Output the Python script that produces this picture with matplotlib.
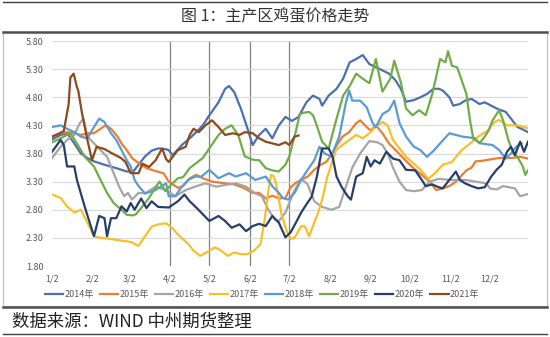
import matplotlib.pyplot as plt
from matplotlib.lines import Line2D
from matplotlib.patches import Rectangle

plt.rcParams['font.family'] = ['Noto Sans CJK SC', 'DejaVu Sans']

# x = days since Jan 2, y = price (yuan/jin)
d2014 = [0, 6.6, 11.5, 17, 22, 27, 32, 40, 49, 57, 62, 66, 71, 76, 81, 86, 89, 92, 99, 105, 110, 115, 120,
         127, 132, 135, 139, 144, 149, 153, 158, 163, 168, 173, 178, 183, 188, 194, 199, 204, 206, 211, 217,
         222, 227, 232, 237, 242, 250, 257, 262, 266, 270, 276, 281, 286, 291, 295, 298, 303, 306, 311, 315,
         320, 326, 330, 335, 340, 346, 350, 355, 358, 363]
v2014 = [4.05, 4.13, 4.16, 3.98, 3.8, 3.72, 3.66, 3.6, 3.54, 3.48, 3.48, 3.6, 3.75, 3.85, 3.89, 3.88, 3.86,
         3.77, 3.95, 4.07, 4.18, 4.3, 4.48, 4.71, 4.95, 5.0, 4.89, 4.6, 4.25, 3.95, 4.13, 4.24, 4.07, 4.3,
         4.45, 4.38, 4.45, 4.71, 4.83, 4.77, 4.65, 4.83, 4.95, 5.13, 5.42, 5.48, 5.55, 5.39, 5.3, 5.22, 5.1,
         4.95, 4.72, 4.75, 4.8, 4.86, 4.95, 4.95, 4.92, 4.8, 4.65, 4.68, 4.74, 4.77, 4.68, 4.71, 4.65, 4.59,
         4.54, 4.42, 4.27, 4.24, 4.18]

d2015 = [0, 6.6, 11.5, 17, 22, 27, 32, 37, 41, 45, 50, 53, 57, 61, 66, 72, 80, 85, 89, 96, 100, 105, 110,
         115, 122, 132, 139, 146, 153, 158, 163, 168, 173, 178, 182, 186, 190, 195, 200, 205, 209, 212, 216.5,
         221.5, 226.6, 232, 235, 240, 243, 247, 252, 257, 262, 267, 272, 277, 282, 288, 293, 298, 303, 308,
         312, 316, 320, 323, 328, 333, 341, 350, 357, 363]
v2015 = [4.1, 4.16, 4.18, 4.16, 4.13, 4.16, 4.16, 4.24, 4.3, 4.24, 4.1, 3.98, 3.86, 3.72, 3.63, 3.54, 3.48,
         3.45, 3.3, 3.19, 3.22, 3.36, 3.42, 3.36, 3.3, 3.27, 3.25, 3.19, 3.1, 3.1, 3.0, 3.05, 3.0, 3.01, 3.2,
         3.28, 3.33, 3.39, 3.51, 3.6, 3.65, 3.74, 3.92, 4.1, 4.18, 4.34, 4.39, 4.27, 4.21, 4.3, 4.16, 3.98,
         3.86, 3.74, 3.62, 3.51, 3.42, 3.3, 3.15, 3.18, 3.22, 3.3, 3.4, 3.5, 3.55, 3.66, 3.67, 3.69, 3.72,
         3.72, 3.74, 3.71]

d2016 = [0, 6.6, 11.5, 17, 21, 24, 27, 32, 37, 42, 46, 51, 55, 58, 61, 66, 71, 79, 87, 94, 102, 109, 117,
         125, 132, 140, 148, 155, 160, 165, 170, 173, 178, 184, 190, 195, 200, 206, 213, 219, 224, 229, 235,
         242, 248, 252, 256, 260, 265, 270, 276, 282, 288, 295, 303, 315, 323, 331, 334, 339, 344, 353, 357,
         363]
v2016 = [3.72, 3.92, 4.04, 4.13, 4.33, 4.42, 4.1, 3.98, 3.86, 3.74, 3.51, 3.22, 3.04, 3.1, 2.98, 3.1, 3.09,
         3.21, 3.15, 3.04, 3.15, 3.21, 3.27, 3.21, 3.24, 3.27, 3.21, 3.09, 3.04, 2.8, 2.62, 2.6, 2.75, 3.1,
         3.35, 3.25, 2.95, 2.85, 2.8, 2.85, 3.2, 3.55, 3.8, 4.02, 4.0, 3.95, 3.8, 3.55, 3.3, 3.15, 3.13, 3.15,
         3.3, 3.35, 3.33, 3.33, 3.3, 3.27, 3.18, 3.16, 3.22, 3.18, 3.04, 3.08]

d2017 = [0, 6.6, 11.5, 17, 22, 27, 32, 37, 45, 53, 57, 61, 64, 66, 71, 76, 81, 87, 92, 96, 104, 108, 113,
         120, 124, 128, 134, 139, 144, 149, 154, 159, 162, 165, 167, 169, 171, 175, 179, 182, 185, 190, 193,
         196, 199, 203, 206, 210, 213, 216.5, 221.5, 226.6, 232, 237, 242, 246.6, 252, 256, 260, 265, 270,
         276, 281, 287, 292, 298, 305, 312, 320, 325, 332, 337, 341, 347, 355, 363]
v2017 = [3.07, 3.01, 2.86, 2.75, 2.8, 2.57, 2.33, 2.3, 2.28, 2.25, 2.24, 2.22, 2.18, 2.16, 2.33, 2.5, 2.54,
         2.56, 2.47, 2.36, 2.19, 2.07, 1.98, 2.07, 2.13, 2.09, 1.98, 2.04, 2.01, 2.01, 2.07, 2.19, 2.6, 3.13,
         3.42, 3.4, 3.25, 2.72, 2.42, 2.28, 2.3, 2.51, 2.5, 2.33, 2.51, 2.75, 2.98, 3.39, 3.6, 3.86, 3.95,
         4.04, 4.13, 4.07, 4.16, 4.27, 4.36, 4.3, 4.04, 3.89, 3.74, 3.62, 3.51, 3.35, 3.45, 3.6, 3.65, 3.85,
         4.0, 4.1, 4.2, 4.35, 4.4, 4.3, 4.3, 4.25]

d2018 = [0, 6.6, 11.5, 17, 22, 27, 32, 36, 40, 45, 49, 53, 57, 60, 63, 66, 71, 79, 87, 89, 94, 99, 104,
         109, 114, 120, 127, 135, 140, 148, 155, 163, 168, 173, 176, 180, 185, 190, 195, 200, 204, 208, 213,
         219, 224, 226.6, 229, 235, 240, 244.5, 247, 252, 257, 261, 265, 270, 276, 281, 286, 291, 296, 303,
         308, 313, 320, 327, 336, 341, 346, 350, 354, 358]
v2018 = [4.27, 4.3, 4.24, 4.18, 4.1, 4.07, 4.27, 4.42, 4.36, 4.16, 4.04, 3.86, 3.68, 3.57, 3.33, 3.22, 3.09,
         3.15, 3.27, 3.04, 3.04, 3.21, 3.33, 3.39, 3.39, 3.51, 3.36, 3.45, 3.39, 3.45, 3.33, 3.39, 3.22, 3.1,
         3.01, 2.98, 3.1, 3.33, 3.51, 3.68, 3.92, 3.8, 3.75, 4.1, 4.69, 4.92, 4.74, 4.74, 4.62, 4.34, 4.27,
         4.5, 4.57, 4.74, 4.34, 4.1, 3.92, 3.86, 3.74, 3.85, 3.98, 4.16, 4.13, 4.1, 4.08, 3.98, 3.95, 3.86,
         3.71, 3.8, 3.92, 3.98]

d2019 = [0, 4, 9, 14, 19, 25, 32, 37, 42, 47, 53, 57, 62, 64, 68, 74, 79, 82, 86.5, 91, 96, 100, 105, 110,
         115, 120, 127, 132, 137, 142, 147, 153, 158, 163, 168, 173, 178, 181, 186, 189, 191, 196, 199, 201,
         206, 211, 217, 222, 227, 232, 237, 242, 247, 252, 258, 261, 266, 270, 275, 280, 285, 290, 296, 300,
         302, 305, 309, 312, 316, 318.7, 321, 326, 330, 333, 336, 341, 344, 348, 352, 355, 359, 361, 363]
v2019 = [4.0, 4.04, 4.1, 4.16, 3.98, 3.74, 3.57, 3.33, 3.1, 2.92, 2.8, 2.71, 2.7, 2.72, 2.83, 3.01, 3.2,
         3.3, 3.13, 3.25, 3.36, 3.38, 3.54, 3.63, 3.72, 3.89, 4.13, 4.24, 4.3, 4.13, 3.75, 3.69, 3.68, 3.54,
         3.5, 3.48, 3.6, 3.75, 4.2, 4.5, 4.52, 4.54, 4.48, 4.36, 4.01, 3.89, 4.42, 4.83, 5.0, 5.22, 5.13,
         5.05, 5.48, 4.9, 5.13, 5.45, 5.07, 4.6, 4.48, 4.57, 4.48, 4.86, 5.48, 5.42, 5.62, 5.36, 5.33, 5.13,
         4.86, 4.4, 4.1, 3.98, 4.1, 4.21, 4.39, 4.57, 4.39, 4.04, 3.8, 3.74, 3.57, 3.42, 3.5]

d2020 = [0, 6.6, 9, 11.5, 17, 19, 25, 32, 36, 40, 42, 45, 49, 53, 57, 60, 63, 68, 72, 76, 81, 89, 96, 101,
         105, 110, 115, 120, 127, 132, 137, 143, 148, 153, 158, 163, 168, 173, 178, 182, 186, 190, 195, 198,
         202, 206, 211, 214, 217, 221, 225.5, 228, 232, 237, 240, 243, 246, 250, 255, 260, 265, 270, 277,
         282, 285, 290, 295, 298, 303, 308, 311, 315, 320, 325, 330, 335, 339, 343, 347, 350, 353, 357, 360,
         363]
v2020 = [3.83, 4.04, 3.95, 3.57, 3.57, 3.33, 2.85, 2.33, 2.69, 2.65, 2.33, 2.65, 2.65, 2.86, 2.77, 2.92,
         2.8, 3.0, 2.83, 2.95, 2.85, 2.84, 2.95, 3.07, 2.95, 2.84, 2.72, 2.6, 2.69, 2.6, 2.48, 2.54, 2.42,
         2.51, 2.55, 2.51, 2.69, 2.57, 2.31, 2.4, 2.57, 2.75, 2.93, 3.03, 3.39, 3.89, 3.89, 3.74, 3.39, 3.2,
         3.04, 2.98, 3.39, 3.45, 3.74, 3.57, 3.68, 3.62, 3.83, 3.71, 3.68, 3.51, 3.5, 3.33, 3.22, 3.25, 3.2,
         3.18, 3.33, 3.48, 3.33, 3.27, 3.22, 3.18, 3.2, 3.39, 3.51, 3.6, 3.83, 3.92, 3.77, 4.01, 3.83, 4.01]

d2021 = [0, 5, 9, 12.7, 14, 16.5, 19, 20, 23, 27, 30.5, 34, 40, 46, 52.6, 56, 60, 66, 69, 74, 79, 84, 87,
         89, 94, 96, 102, 105, 108, 112, 117, 122, 127, 132, 138, 143, 147, 153, 158, 163, 168, 173, 178,
         181, 185, 188]
v2021 = [4.1, 4.15, 4.2, 4.68, 5.15, 5.22, 4.98, 4.92, 4.5, 4.04, 3.68, 3.92, 3.88, 3.8, 3.72, 3.65, 3.45,
         3.45, 3.62, 3.56, 3.68, 3.89, 3.7, 3.65, 3.8, 3.86, 3.92, 4.13, 4.24, 4.18, 4.3, 4.39, 4.27, 4.13,
         4.16, 4.13, 4.18, 4.16, 4.07, 4.01, 3.98, 3.95, 4.0, 3.95, 4.1, 4.12]

years = ['2014年', '2015年', '2016年', '2017年', '2018年', '2019年', '2020年', '2021年']
colors = ['#4A70B0', '#ED7D31', '#A5A5A5', '#F5C02A', '#5B9BD5', '#70AD47', '#263F6A', '#8E4A1C']
series = [(d2014, v2014), (d2015, v2015), (d2016, v2016), (d2017, v2017),
          (d2018, v2018), (d2019, v2019), (d2020, v2020), (d2021, v2021)]

month_days = [0, 31, 59, 90, 120, 151, 181, 212, 243, 273, 304, 334]
month_labels = ['1/2', '2/2', '3/2', '4/2', '5/2', '6/2', '7/2', '8/2', '9/2', '10/2', '11/2', '12/2']
y_ticks = [1.8, 2.3, 2.8, 3.3, 3.8, 4.3, 4.8, 5.3, 5.8]
marked_months = [90, 120, 151, 181]

fig = plt.figure(figsize=(5.5, 3.37), dpi=100)
W, H = 550, 337

# frame and rules
fig.patches.append(Rectangle((3 / W, 1 - 306 / H), 544 / W, 274 / H, transform=fig.transFigure,
                             fill=False, edgecolor='#BFBFBF', lw=0.8))
for y, lw, c in [(2, 1.0, '#404040'), (32, 1.8, '#505050'), (307, 1.8, '#505050'), (334, 1.0, '#404040')]:
    fig.add_artist(Line2D([0.005, 0.995], [1 - y / H, 1 - y / H], transform=fig.transFigure, color=c, lw=lw))

fig.text(0.5, 1 - 17 / H, '图 1：主产区鸡蛋价格走势', ha='center', va='center', fontsize=11.5, color='#333333')
fig.text(12 / W, 1 - 322 / H, '数据来源：WIND 中州期货整理', ha='left', va='center', fontsize=12.5, color='#222222')

ax = fig.add_axes([52 / W, 1 - 266 / H, 476 / W, 225 / H])
for (d, v), c, lab in zip(series, colors, years):
    ax.plot(d, v, color=c, lw=1.6, label=lab)
for m in marked_months:
    ax.axvline(m, color='#808080', lw=0.9, zorder=0.5)

ax.set_xlim(0, 363)
ax.set_ylim(1.8, 5.8)
ax.set_yticks(y_ticks)
ax.set_yticklabels(['%.2f' % t for t in y_ticks])
ax.set_xticks(month_days)
ax.set_xticklabels(month_labels)
ax.tick_params(length=0, labelsize=6.5, colors='#595959', pad=6)
ax.grid(axis='y', color='#D9D9D9', lw=0.8)
ax.set_axisbelow(True)
for s in ax.spines.values():
    s.set_visible(False)

fig.legend(loc='center', bbox_to_anchor=(262 / W, 1 - 295 / H), ncol=8, frameon=False,
           fontsize=6.5, handlelength=2.0, handletextpad=0.1, columnspacing=0.75,
           labelcolor='#595959')

fig.savefig('out.png', dpi=100)
